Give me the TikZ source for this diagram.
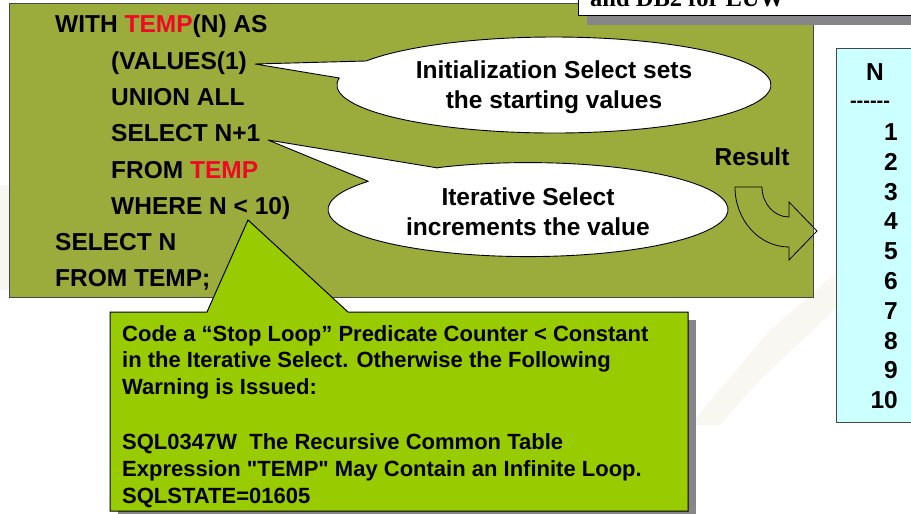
\documentclass[tikz,border=0pt]{standalone}
\usepackage{fontspec}
\setmainfont{Liberation Sans}
\newfontfamily\rawsans{Liberation Sans}
\newfontfamily\serifbold{Liberation Serif}[BoldFont={* Bold}]
\definecolor{olivebg}{RGB}{155,172,60}
\definecolor{notegreen}{RGB}{153,204,0}
\definecolor{tablecyan}{RGB}{204,255,255}
\definecolor{sqlred}{RGB}{240,8,36}
\definecolor{shadowgray}{RGB}{133,133,138}
\definecolor{framegray}{RGB}{70,70,70}
\definecolor{faint}{RGB}{248,247,241}
\newcommand\sqlfont{\fontsize{24.5}{29}\selectfont\bfseries}
\newcommand\notefont{\fontsize{22}{26.7}\selectfont\bfseries}
\newcommand\dq{{\rawsans\bfseries "}}
\begin{document}
\begin{tikzpicture}[x=1pt,y=-1pt,
  codeline/.style={anchor=base west,inner sep=0pt,font=\sqlfont},
  noteline/.style={anchor=base west,inner sep=0pt,font=\notefont},
  numcell/.style={anchor=base east,inner sep=0pt,font=\sqlfont},
  bubbletext/.style={align=center,inner sep=0pt,font=\sqlfont},
  bubble/.style={fill=white,draw=black,line width=0.9pt,line join=round},
  panel/.style={draw=framegray,line width=1pt}]
\useasboundingbox (0,0) rectangle (911,514);

% faint decorative band in the background
\fill[faint] (690,425) -- (770,330) -- (845,265) -- (845,300) -- (760,380) -- (720,425) -- cycle;
\fill[faint] (0,185) rectangle (9,290);

% SQL panel
\filldraw[fill=olivebg,panel] (9,3) rectangle (813,297);

% heading box in the corner, with its shadow
\fill[shadowgray] (587,-20) rectangle (930,25);
\filldraw[fill=white,draw=black,line width=0.8pt] (578,-30) rectangle (930,15);
\node[anchor=base west,inner sep=0pt,font=\fontsize{24.5}{29}\selectfont\serifbold\bfseries] (heading) at (590,6) {and DB2 for LUW};

% recursive query
\node[codeline] (l1) at (55,32.8)  {WITH \textcolor{sqlred}{TEMP}(N) AS};
\node[codeline] (l2) at (111,69.1) {(VALUES(1)};
\node[codeline] (l3) at (111,105.4){UNION ALL};
\node[codeline] (l4) at (111,141.7){SELECT N+1};
\node[codeline] (l5) at (111,178)  {FROM \textcolor{sqlred}{TEMP}};
\node[codeline] (l6) at (111,214.3){WHERE N < 10)};
\node[codeline] (l7) at (55,250.6) {SELECT N};
\node[codeline] (l8) at (55,286.9) {FROM TEMP;};

% callout for the initialization select
\coordinate (tipA) at (255,64);
\draw[bubble] (366.1,61) -- (tipA) -- (339.3,78)
  arc[start angle=188.4,end angle=-150,x radius=217,y radius=48] -- cycle;
\node[bubbletext] (initsel) at (554,87) {Initialization Select sets\\[1pt]the starting values};

% callout for the iterative select
\coordinate (tipB) at (268,140);
\draw[bubble] (437.9,168) -- (tipB) -- (368.3,181.3)
  arc[start angle=217,end angle=-117,x radius=200,y radius=47] -- cycle;
\node[bubbletext] (itersel) at (528,212) {Iterative Select\\[1pt]increments the value};

% curved arrow towards the result table
\node[inner sep=0pt,font=\sqlfont] (result) at (752,157) {Result};
\draw[black,line width=0.8pt,line join=miter]
  (735,187) -- (762,187)
  arc[start angle=180,end angle=90,x radius=27,y radius=30]
  -- (789,202) -- (817,231) -- (789,260) -- (789,247)
  arc[start angle=90,end angle=180,x radius=54,y radius=60] -- cycle;

% result table
\filldraw[fill=tablecyan,panel] (836,48) rectangle (930,422);
\node[anchor=base,inner sep=0pt,font=\sqlfont] (colhead) at (875,80.5) {N};
\node[anchor=base,inner sep=0pt,font=\fontsize{20}{24}\selectfont\rawsans\bfseries] (rule) at (870,107) {------};
\node[numcell] (r1)  at (898,140.5) {1};
\node[numcell] (r2)  at (898,170.3) {2};
\node[numcell] (r3)  at (898,200.1) {3};
\node[numcell] (r4)  at (898,229.9) {4};
\node[numcell] (r5)  at (898,259.7) {5};
\node[numcell] (r6)  at (898,289.5) {6};
\node[numcell] (r7)  at (898,319.3) {7};
\node[numcell] (r8)  at (898,349.1) {8};
\node[numcell] (r9)  at (898,378.9) {9};
\node[numcell] (r10) at (898,408.7) {10};

% warning note with its pointer
\coordinate (tipC) at (248,220);
\fill[shadowgray] (118,320) rectangle (696,522);
\filldraw[fill=notegreen,draw=black,line width=1pt,line join=miter]
  (110,312) -- (207,312) -- (tipC) -- (348,312) -- (688,312) -- (688,511) -- (110,511) -- cycle;
\node[noteline] (n1) at (122,341)   {Code a “Stop Loop” Predicate Counter < Constant};
\node[noteline] (n2) at (122,367.7) {in the Iterative Select. Otherwise the Following};
\node[noteline] (n3) at (122,394.4) {Warning is Issued:};
\node[noteline] (n4) at (122,449.8) {SQL0347W\ \ The Recursive Common Table};
\node[noteline] (n5) at (122,476.5) {Expression \dq TEMP\dq\ May Contain an Infinite Loop.};
\node[noteline] (n6) at (122,503.2) {SQLSTATE=01605};
\end{tikzpicture}
\end{document}
